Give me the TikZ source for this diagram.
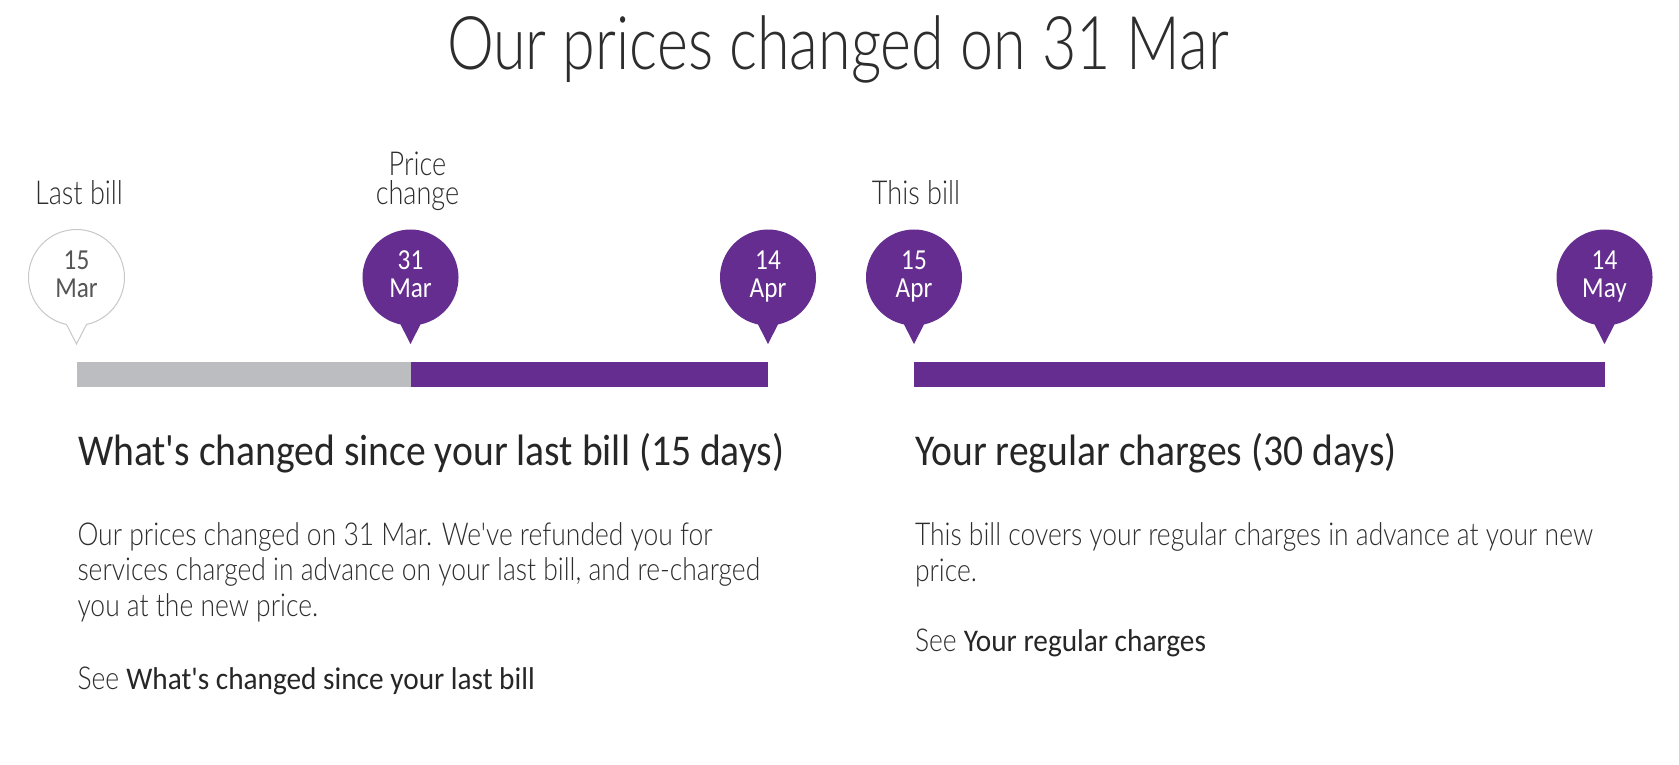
\documentclass[tikz,border=0pt]{standalone}
\usepackage{fontspec}
\setmainfont{Carlito}[FakeStretch=0.87]
\newfontfamily\lightfont{Lato Light}[FakeStretch=0.84]
\newfontfamily\labelfont{Lato Light}[FakeStretch=0.82]
\newfontfamily\titlefont{Lato Light}[FakeStretch=0.80]
\newfontfamily\headfont{Carlito}[FakeStretch=0.90]
\newfontfamily\linkfont{Carlito}[FakeStretch=0.93]
\usetikzlibrary{calc}
\definecolor{bpurple}{RGB}{100,45,143}
\definecolor{bgrey}{RGB}{188,189,193}
\definecolor{txt}{RGB}{45,45,45}
\definecolor{headtxt}{RGB}{38,38,38}
\definecolor{pinline}{RGB}{200,200,200}
\definecolor{pingrey}{RGB}{85,85,85}
\tikzset{
  every node/.style={inner sep=0pt,outer sep=0pt},
  purplepin/.style={fill=bpurple},
  whitepin/.style={fill=white,draw=pinline,line width=1pt},
  pinnum/.style={font=\fontsize{29}{29}\selectfont,anchor=base},
  toplabel/.style={font=\labelfont\fontsize{33}{33}\selectfont,text=txt,anchor=base},
  titletext/.style={font=\titlefont\fontsize{74}{74}\selectfont,text=txt,anchor=base},
  headtext/.style={font=\headfont\fontsize{44}{44}\selectfont,text=headtxt,anchor=base west},
  bodytext/.style={font=\lightfont\fontsize{31.5}{31.5}\selectfont,text=txt,anchor=base west},
}
% name, x, style, number, month, text colour
\newcommand\mypin[6]{%
  \path[#3] (#2,-344) -- ($(#2,-277.5)+(-78:48pt)$)
     arc[start angle=-78,end angle=258,radius=48pt] -- cycle;
  \node[circle,minimum size=96pt] (#1) at (#2,-277.5) {};
  \coordinate (#1tip) at (#2,-344);
  \node[pinnum,text=#6] (#1day) at (#2,-269) {#4};
  \node[pinnum,text=#6] (#1mon) at (#2,-297.3) {#5};
}
\begin{document}
\begin{tikzpicture}[x=1pt,y=1pt]
\useasboundingbox (0,0) rectangle (1679,-764);
\fill[white] (0,0) rectangle (1679,-764);

% title
\node[titletext] (title) at (838,-69.3) {Our prices changed on 31 Mar};

% top labels
\node[toplabel] (lastbill) at (79,-204.5) {Last bill};
\node[toplabel,text depth=0pt] (price) at (417.5,-175.5) {Price};
\node[toplabel,text height=20pt] (change) at (417.5,-204.5) {change};
\node[toplabel] (thisbill) at (916,-204.5) {This bill};

% pins
\mypin{pA}{76.5}{whitepin}{15}{Mar}{pingrey}
\mypin{pB}{410.5}{purplepin}{31}{Mar}{white}
\mypin{pC}{768}{purplepin}{14}{Apr}{white}
\mypin{pD}{914}{purplepin}{15}{Apr}{white}
\mypin{pE}{1604.5}{purplepin}{14}{May}{white}

% bars
\fill[bgrey] ($(pAtip)+(0,-18)$) rectangle ($(pBtip)+(0,-42.7)$);
\fill[bpurple] ($(pBtip)+(0,-18)$) rectangle ($(pCtip)+(0,-42.7)$);
\fill[bpurple] ($(pDtip)+(0,-18)$) rectangle ($(pEtip)+(0,-42.7)$);

% left column
\node[headtext] (lhead) at (78,-465) {What's changed since your last bill (15 days)};
\node[bodytext] (lb1) at (77.5,-545) {Our prices changed on 31 Mar. We've refunded you for};
\node[bodytext] (lb2) at (77.5,-580.7) {services charged in advance on your last bill, and re-charged};
\node[bodytext] (lb3) at (77.5,-616.5) {you at the new price.};
\node[bodytext] (lsee) at (77.5,-689.3) {See {\linkfont\color{headtxt}What's changed since your last bill}};

% right column
\node[headtext] (rhead) at (915,-465) {Your regular charges (30 days)};
\node[bodytext] (rb1) at (915,-545.5) {This bill covers your regular charges in advance at your new};
\node[bodytext] (rb2) at (915,-581) {price.};
\node[bodytext] (rsee) at (915,-651.5) {See {\linkfont\color{headtxt}Your regular charges}};
\end{tikzpicture}
\end{document}
